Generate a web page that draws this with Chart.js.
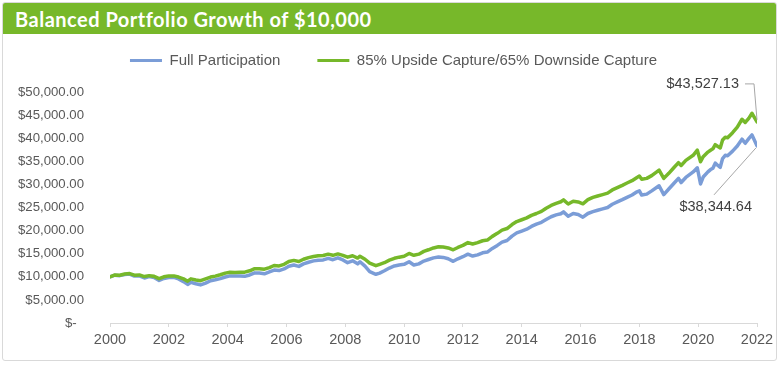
<!DOCTYPE html>
<html>
<head>
<meta charset="utf-8">
<script src="https://cdn.jsdelivr.net/npm/chart.js@4.4.0/dist/chart.umd.min.js"></script>
<style>
  body { margin: 0; background: #fff; }
  #frame {
    position: absolute; left: 2px; top: 2px; width: 775px; height: 359px;
    border: 1px solid #d9d9d9; border-radius: 3px; box-sizing: border-box; overflow: hidden;
  }
  #header {
    position: absolute; left: 0; top: 0; right: 0; height: 31px;
    background: #77b82a; color: #fff;
    font: 700 20px Lato, sans-serif; letter-spacing: 0.5px; line-height: 32px; padding-left: 12px;
  }
  #chart { position: absolute; left: 0; top: 0; }
</style>
</head>
<body>
<div id="frame"><div id="header">Balanced Portfolio Growth of $10,000</div></div>
<canvas id="chart" width="780" height="366"></canvas>
<script>
// month positions as decimal years
const years = [
  2000.00, 2000.17, 2000.33, 2000.50, 2000.67, 2000.83,
  2001.00, 2001.17, 2001.33, 2001.50, 2001.67, 2001.83,
  2002.00, 2002.17, 2002.33, 2002.50, 2002.64, 2002.75, 2002.92,
  2003.08, 2003.25, 2003.42, 2003.58, 2003.75, 2003.92,
  2004.08, 2004.25, 2004.42, 2004.58, 2004.75, 2004.92,
  2005.08, 2005.25, 2005.42, 2005.58, 2005.75, 2005.92,
  2006.08, 2006.25, 2006.42, 2006.58, 2006.75, 2006.92,
  2007.08, 2007.25, 2007.42, 2007.58, 2007.75, 2007.92,
  2008.08, 2008.25, 2008.42, 2008.50, 2008.67, 2008.83,
  2009.04, 2009.17, 2009.33, 2009.50, 2009.67, 2009.83,
  2010.00, 2010.17, 2010.33, 2010.50, 2010.67, 2010.83,
  2011.00, 2011.17, 2011.33, 2011.50, 2011.67, 2011.83,
  2012.00, 2012.17, 2012.33, 2012.50, 2012.67, 2012.83,
  2013.00, 2013.17, 2013.33, 2013.50, 2013.67, 2013.83,
  2014.00, 2014.17, 2014.33, 2014.50, 2014.67, 2014.83,
  2015.00, 2015.17, 2015.33, 2015.42, 2015.58, 2015.75, 2015.92,
  2016.08, 2016.25, 2016.42, 2016.58, 2016.75, 2016.92,
  2017.08, 2017.25, 2017.42, 2017.58, 2017.75, 2017.92,
  2018.00, 2018.08, 2018.25, 2018.42, 2018.67, 2018.83,
  2019.00, 2019.17, 2019.33, 2019.42, 2019.58, 2019.83, 2019.97,
  2020.08, 2020.17, 2020.33, 2020.42, 2020.50, 2020.58, 2020.67, 2020.75, 2020.83, 2020.92,
  2021.00, 2021.17, 2021.33, 2021.49, 2021.60, 2021.72, 2021.83, 2022.00
];

const fullParticipation = [
  10000, 10350, 10250, 10500, 10600, 10150,
  10200, 9750, 10050, 9850, 9200, 9650,
  9850, 9900, 9550, 8950, 8350, 8800, 8500,
  8250, 8650, 9150, 9350, 9600, 9950,
  10200, 10150, 10150, 10100, 10400, 10850,
  10800, 10650, 11050, 11450, 11350, 11700,
  12300, 12550, 12250, 12800, 13150, 13450,
  13600, 13650, 14000, 13700, 14100, 13650,
  13050, 13450, 12800, 13250, 12300, 11100,
  10550, 10800, 11300, 11900, 12350, 12550,
  12700, 13250, 12550, 12800, 13400, 13750,
  14100, 14300, 14200, 13900, 13350, 13900,
  14350, 14900, 14500, 14750, 15200, 15350,
  16150, 16800, 17500, 17850, 18800, 19500,
  19900, 20300, 20900, 21400, 21800, 22400,
  23000, 23400, 23650, 24050, 23100, 23700, 23500,
  22900, 23700, 24100, 24400, 24700, 25000,
  25700, 26200, 26700, 27200, 27700, 28400,
  28600, 27700, 27900, 28600, 29700, 27800,
  29000, 30200, 31300, 30400, 31500, 32700, 33600,
  30100, 31600, 32700, 33200, 33500, 34600, 34100, 33700, 35600, 36300,
  36200, 37200, 38300, 39800, 38900, 39900, 40700, 38344.64
];

const upsideDownside = [
  10000, 10400, 10350, 10600, 10700, 10350,
  10400, 10050, 10250, 10100, 9600, 10000,
  10200, 10200, 9950, 9550, 9050, 9550, 9300,
  9150, 9550, 9950, 10150, 10450, 10800,
  11000, 10950, 11000, 11000, 11300, 11750,
  11750, 11650, 12000, 12450, 12350, 12700,
  13300, 13550, 13300, 13800, 14150, 14400,
  14550, 14600, 14900, 14650, 14950, 14650,
  14250, 14550, 14050, 14450, 13800, 12950,
  12400, 12700, 13050, 13600, 14000, 14250,
  14450, 15050, 14650, 14900, 15500, 15850,
  16250, 16500, 16450, 16250, 15850, 16350,
  16800, 17400, 17100, 17400, 17800, 17950,
  18750, 19400, 20100, 20450, 21300, 21950,
  22350, 22750, 23300, 23700, 24150, 24850,
  25450, 25900, 26250, 26650, 25750, 26350, 26200,
  25800, 26700, 27200, 27500, 27800, 28100,
  28800, 29300, 29800, 30300, 30800, 31500,
  31800, 31100, 31300, 31900, 33100, 31300,
  32400, 33600, 34700, 34100, 35200, 36300, 37400,
  34900, 36000, 37000, 37400, 37700, 38600, 38200, 37900, 39600, 40200,
  40100, 41200, 42400, 44100, 43400, 44300, 45400, 43527.13
];

const seriesNames = ['Full Participation', '85% Upside Capture/65% Downside Capture'];
const xTicks = [2000, 2002, 2004, 2006, 2008, 2010, 2012, 2014, 2016, 2018, 2020, 2022];

const blue = '#7b9dd7';
const green = '#76b82a';
const textColor = '#595959';
const family = '"Liberation Sans", Arial, sans-serif';

function money(v) {
  const parts = v.toFixed(2).split('.');
  return '$' + parts[0].replace(/\B(?=(\d{3})+(?!\d))/g, ',') + '.' + parts[1];
}

const toPoints = arr => arr.map((v, i) => ({ x: years[i], y: v }));

// fixed legend band height so the plot starts where the original does,
// and a small nudge to the right like in the original
const legendSpace = {
  id: 'legendSpace',
  beforeInit(chart) {
    const fit = chart.legend.fit;
    chart.legend.fit = function () {
      fit.bind(chart.legend)();
      this.height = 76;
    };
  },
  afterLayout(chart) {
    chart.legend.left += 10;
    chart.legend.right += 10;
  }
};

// end value callouts
const endLabels = {
  id: 'endLabels',
  afterDatasetsDraw(chart) {
    const ctx = chart.ctx;
    const g = chart.getDatasetMeta(1).data;
    const b = chart.getDatasetMeta(0).data;
    const gp = g[g.length - 1];
    const bp = b[b.length - 1];
    ctx.save();
    ctx.strokeStyle = '#a6a6a6';
    ctx.lineWidth = 1;
    ctx.font = '14.5px ' + family;
    ctx.fillStyle = '#404040';
    ctx.textBaseline = 'middle';
    ctx.textAlign = 'right';

    const gy = gp.y - 38;
    ctx.fillText(money(upsideDownside[upsideDownside.length - 1]), gp.x - 18, gy);
    ctx.beginPath();
    ctx.moveTo(gp.x - 12, gy);
    ctx.lineTo(gp.x - 3, gy);
    ctx.lineTo(gp.x, gp.y - 2);
    ctx.stroke();

    ctx.fillText(money(fullParticipation[fullParticipation.length - 1]), gp.x - 5, bp.y + 61);
    ctx.beginPath();
    ctx.moveTo(bp.x - 43, bp.y + 49);
    ctx.lineTo(bp.x - 1, bp.y + 2);
    ctx.stroke();
    ctx.restore();
  }
};

new Chart(document.getElementById('chart'), {
  type: 'line',
  data: {
    datasets: [
      {
        label: seriesNames[0],
        data: toPoints(fullParticipation),
        borderColor: blue,
        backgroundColor: blue,
        borderWidth: 3.5,
        order: 1
      },
      {
        label: seriesNames[1],
        data: toPoints(upsideDownside),
        borderColor: green,
        backgroundColor: green,
        borderWidth: 3.5,
        order: 0
      }
    ]
  },
  options: {
    responsive: false,
    animation: false,
    parsing: false,
    elements: {
      point: { radius: 0 },
      line: { tension: 0, borderJoinStyle: 'round', borderCapStyle: 'round' }
    },
    layout: { padding: { top: 16, left: 10, right: 23, bottom: 7 } },
    plugins: {
      tooltip: { enabled: false },
      legend: {
        position: 'top',
        labels: {
          color: textColor,
          font: { family: family, size: 15 },
          boxWidth: 32,
          boxHeight: 3,
          padding: 37,
          sort: (a, b) => a.datasetIndex - b.datasetIndex,
          generateLabels(chart) {
            const items = Chart.defaults.plugins.legend.labels.generateLabels(chart);
            items.forEach(it => { it.lineWidth = 0; });
            return items;
          }
        }
      }
    },
    scales: {
      x: {
        type: 'linear',
        min: 2000,
        max: 2022,
        afterBuildTicks(axis) {
          axis.ticks = xTicks.map(v => ({ value: v }));
        },
        afterFit(axis) { axis.height = 36; },
        ticks: {
          color: textColor,
          font: { family: family, size: 14.5 },
          padding: 4,
          maxRotation: 0,
          callback: v => String(v)
        },
        grid: { drawOnChartArea: false, drawTicks: true, tickLength: 4, color: '#d9d9d9' },
        border: { color: '#d9d9d9' }
      },
      y: {
        min: 0,
        max: 50000,
        afterFit(axis) { axis.width = 100; },
        ticks: {
          stepSize: 5000,
          color: textColor,
          font: { family: family, size: 13.2 },
          padding: 18,
          callback: v => v === 0 ? '$-  ' : money(v)
        },
        grid: { display: false },
        border: { display: false }
      }
    }
  },
  plugins: [legendSpace, endLabels]
});
</script>
</body>
</html>
